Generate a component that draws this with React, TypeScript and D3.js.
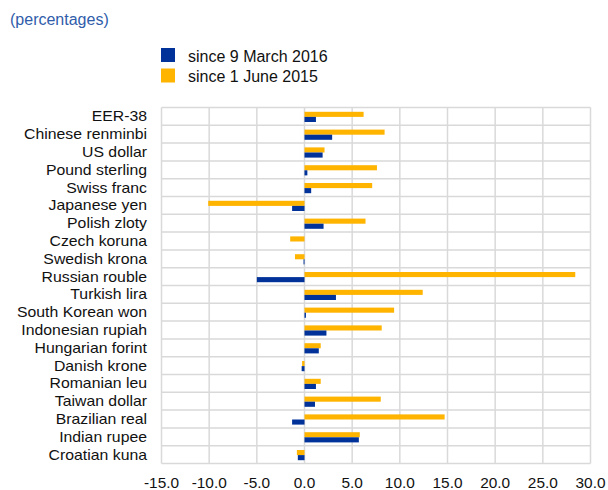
import React from 'react';
import * as d3 from 'd3';

const currencies = [
  'EER-38', 'Chinese renminbi', 'US dollar', 'Pound sterling', 'Swiss franc',
  'Japanese yen', 'Polish zloty', 'Czech koruna', 'Swedish krona', 'Russian rouble',
  'Turkish lira', 'South Korean won', 'Indonesian rupiah', 'Hungarian forint', 'Danish krone',
  'Romanian leu', 'Taiwan dollar', 'Brazilian real', 'Indian rupee', 'Croatian kuna',
];

// since 9 March 2016
const sinceMarch2016 = [
  1.2, 2.9, 1.9, 0.3, 0.7,
  -1.3, 2.0, 0.0, -0.1, -5.0,
  3.3, 0.15, 2.3, 1.5, -0.3,
  1.2, 1.1, -1.3, 5.7, -0.7,
];

// since 1 June 2015
const sinceJune2015 = [
  6.2, 8.4, 2.1, 7.6, 7.1,
  -10.1, 6.4, -1.5, -1.0, 28.4,
  12.4, 9.4, 8.1, 1.7, -0.25,
  1.7, 8.0, 14.7, 5.8, -0.8,
];

const ticks = [-15, -10, -5, 0, 5, 10, 15, 20, 25, 30];

const seriesNames = ['since 9 March 2016', 'since 1 June 2015'];
const colors = ['#003299', '#FFB400'];

class App extends React.Component {
  constructor(props) {
    super(props);
    this.x = d3.scaleLinear().domain([-15, 30]).range([161.5, 590.5]);
    this.y = d3.scaleBand().domain(currencies).range([107.5, 463.5]).padding(0);
    // order inside each band: orange on top, blue below
    this.sub = d3.scaleBand().domain(['june', 'march']).range([4.3, 14.5]);
  }

  render() {
    const x = this.x;
    const y = this.y;
    const sub = this.sub;
    const grid = '#d9d9d9';
    const font = 'Arial, "Liberation Sans", Helvetica, sans-serif';

    const bars = [];
    currencies.forEach((c, i) => {
      const y0 = y(c);
      [['june', sinceJune2015[i], colors[1]], ['march', sinceMarch2016[i], colors[0]]].forEach(([k, v, col]) => {
        bars.push(
          <rect
            key={c + k}
            x={x(Math.min(0, v))}
            y={y0 + sub(k)}
            width={Math.abs(x(v) - x(0))}
            height={sub.bandwidth()}
            style={{ fill: col }}
          />
        );
      });
    });

    return (
      <svg width={608} height={490} style={{ position: 'absolute', left: 0, top: 0 }} fontFamily={font}>
        <text x={10} y={25} fontSize={16} fill="#2f5daa">(percentages)</text>

        {seriesNames.map((s, i) => (
          <g key={s} transform={`translate(161,${48 + i * 20.5})`}>
            <rect width={14} height={14} fill={colors[i]} />
            <text x={27} y={13.5} fontSize={16} fill="#111">{s}</text>
          </g>
        ))}

        <g>
          {ticks.map(t => (
            <line key={'v' + t} x1={x(t)} x2={x(t)} y1={107.5} y2={463.5} stroke={grid} strokeWidth={1.5} />
          ))}
          {currencies.map(c => (
            <line key={'h' + c} x1={161.5} x2={590.5} y1={y(c)} y2={y(c)} stroke={grid} strokeWidth={1.5} />
          ))}
          <line x1={161.5} x2={590.5} y1={463.5} y2={463.5} stroke={grid} strokeWidth={1.5} />
        </g>

        <g>{bars}</g>

        {currencies.map(c => (
          <text
            key={'l' + c}
            transform={`translate(147,${y(c) + y.bandwidth() / 2 + 5}) scale(1.13,1)`}
            textAnchor="end"
            fontSize={14}
            fill="#111"
          >
            {c}
          </text>
        ))}

        {ticks.map(t => (
          <text
            key={'t' + t}
            transform={`translate(${x(t)},488) scale(1.1,1)`}
            textAnchor="middle"
            fontSize={14}
            fill="#111"
          >
            {t.toFixed(1)}
          </text>
        ))}
      </svg>
    );
  }
}

export default App;
